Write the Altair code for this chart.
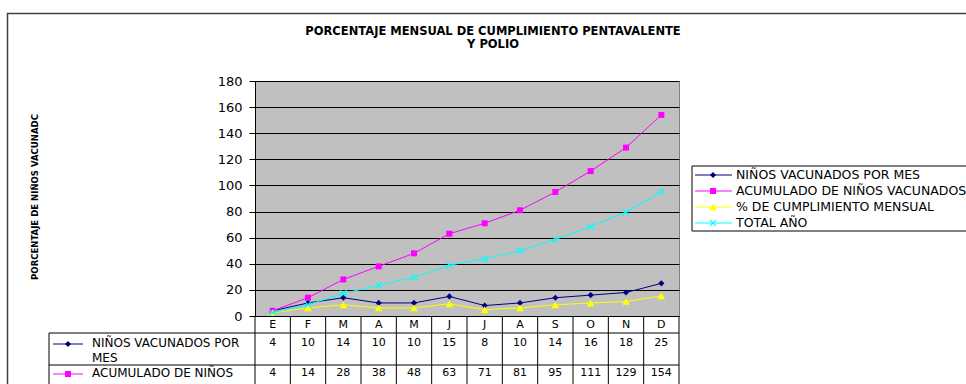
import altair as alt
import pandas as pd

# ---- data -------------------------------------------------------------
months = ["E", "F", "M", "A", "M", "J", "J", "A", "S", "O", "N", "D"]
ninos_mes = [4, 10, 14, 10, 10, 15, 8, 10, 14, 16, 18, 25]
acumulado = [4, 14, 28, 38, 48, 63, 71, 81, 95, 111, 129, 154]
cumplimiento = [2.5, 6.2, 8.6, 6.2, 6.2, 9.3, 4.9, 6.2, 8.6, 9.9, 11.1, 15.4]
total_anio = [2.5, 8.6, 17.3, 23.5, 29.6, 38.9, 43.8, 50.0, 58.6, 68.5, 79.6, 95.1]

series_names = [
    "NIÑOS VACUNADOS POR MES",
    "ACUMULADO DE NIÑOS VACUNADOS",
    "% DE CUMPLIMIENTO MENSUAL",
    "TOTAL AÑO",
]
series_values = [ninos_mes, acumulado, cumplimiento, total_anio]
series_colors = ["#000080", "#FF00FF", "#FFFF00", "#00FFFF"]
series_shapes = ["diamond", "square", "triangle-up", "M-1,-1L1,1M-1,1L1,-1"]
series_sizes = [38, 36, 60, 40]

rows = []
for name, vals in zip(series_names, series_values):
    for i, v in enumerate(vals):
        rows.append({"series": name, "idx": i, "pos": i + 0.5, "value": v})
df = pd.DataFrame(rows)

months_df = pd.DataFrame({
    "pos": [i + 0.5 for i in range(12)],
    "mes": months,
    "ninos": ninos_mes,
    "acum": acumulado,
})
bounds_df = pd.DataFrame({"b": list(range(13))})
one = pd.DataFrame({"k": [0]})

# ---- layout (pixels, relative to the plot area) ----------------------
W, H = 424, 235
PAD_L, PAD_T = 255, 81
FONT = "DejaVu Sans"

xs = alt.Scale(domain=[0, 12], nice=False, zero=False)


def X(field):
    return alt.X(field, scale=xs, axis=None)


layers = []

# outer chart frame
layers.append(
    alt.Chart(one).mark_rect(fill=None, stroke="#404040", strokeWidth=1.5).encode(
        x=alt.value(-247.5), x2=alt.value(800), y=alt.value(-67.5), y2=alt.value(400)
    )
)

# value axis with gridlines
y_axis = alt.Axis(
    values=list(range(0, 181, 20)), grid=True, gridColor="black", gridWidth=1,
    gridOpacity=1, domainColor="black", tickColor="black", tickSize=6,
    labelPadding=7, labelFont=FONT, labelFontSize=13, labelColor="black",
    title=None,
)
ys = alt.Scale(domain=[0, 180], nice=False, zero=True)

for name, vals, col, shp, sz in zip(series_names, series_values, series_colors,
                                     series_shapes, series_sizes):
    sub = alt.Chart(df).transform_filter(alt.datum.series == name)
    layers.append(
        sub.mark_line(color=col, strokeWidth=1).encode(
            x=X("pos:Q"), y=alt.Y("value:Q", scale=ys, axis=y_axis)
        )
    )
    if shp.startswith("M"):
        pt = sub.mark_point(shape=shp, size=sz, color=col, filled=False,
                            strokeWidth=1.2, opacity=1)
    else:
        pt = sub.mark_point(shape=shp, size=sz, color=col, filled=True, opacity=1)
    layers.append(pt.encode(x=X("pos:Q"), y=alt.Y("value:Q", scale=ys, axis=y_axis)))

# ---- title and value-axis title --------------------------------------
layers.append(
    alt.Chart(one).mark_text(
        font=FONT, fontSize=11.5, fontWeight="bold", color="black",
        align="center", baseline="middle", lineHeight=12.5,
    ).encode(
        x=alt.value(238), y=alt.value(-49),
        text=alt.value(["PORCENTAJE MENSUAL DE CUMPLIMIENTO PENTAVALENTE", "Y POLIO"]),
    )
)
layers.append(
    alt.Chart(one).mark_text(
        font="Liberation Sans Narrow, Arial Narrow, DejaVu Sans Condensed",
        fontSize=9.5, fontWeight="bold", color="black", angle=270,
        align="center", baseline="middle",
    ).encode(x=alt.value(-220), y=alt.value(116),
             text=alt.value("PORCENTAJE DE NIÑOS VACUNADC"))
)

# ---- data table under the plot ---------------------------------------
layers.append(
    alt.Chart(bounds_df).mark_rule(color="black", strokeWidth=1).encode(
        x=X("b:Q"), y=alt.value(H), y2=alt.value(320)
    )
)
for yy in (252, 284):
    layers.append(
        alt.Chart(one).mark_rule(color="black", strokeWidth=1).encode(
            x=alt.value(-206), x2=alt.value(W), y=alt.value(yy)
        )
    )
layers.append(
    alt.Chart(one).mark_rule(color="black", strokeWidth=1).encode(
        x=alt.value(-206), y=alt.value(252), y2=alt.value(320)
    )
)
layers.append(
    alt.Chart(months_df).mark_text(font=FONT, fontSize=11, color="black").encode(
        x=X("pos:Q"), y=alt.value(244), text="mes:N"
    )
)
layers.append(
    alt.Chart(months_df).mark_text(font=FONT, fontSize=11, color="black").encode(
        x=X("pos:Q"), y=alt.value(262), text="ninos:Q"
    )
)
layers.append(
    alt.Chart(months_df).mark_text(font=FONT, fontSize=11, color="black").encode(
        x=X("pos:Q"), y=alt.value(292), text="acum:Q"
    )
)

table_rows = [
    (["NIÑOS VACUNADOS POR", "MES"], 263, 0),
    (["ACUMULADO DE NIÑOS"], 293, 1),
]
for lines, yy, si in table_rows:
    layers.append(
        alt.Chart(one).mark_rule(color=series_colors[si], strokeWidth=1).encode(
            x=alt.value(-202), x2=alt.value(-172), y=alt.value(yy)
        )
    )
    layers.append(
        alt.Chart(one).mark_point(shape=series_shapes[si], size=series_sizes[si],
                                  color=series_colors[si], filled=True, opacity=1).encode(
            x=alt.value(-187), y=alt.value(yy)
        )
    )
    layers.append(
        alt.Chart(one).mark_text(font=FONT, fontSize=12, color="black",
                                 align="left", baseline="top", lineHeight=15).encode(
            x=alt.value(-163), y=alt.value(yy - 6), text=alt.value(lines)
        )
    )

# ---- legend box -------------------------------------------------------
layers.append(
    alt.Chart(one).mark_rect(fill="white", stroke="black", strokeWidth=1).encode(
        x=alt.value(437), x2=alt.value(760), y=alt.value(85), y2=alt.value(150)
    )
)
for i, (name, col, shp, sz) in enumerate(zip(series_names, series_colors,
                                             series_shapes, series_sizes)):
    yy = 94 + 16 * i
    layers.append(
        alt.Chart(one).mark_rule(color=col, strokeWidth=1).encode(
            x=alt.value(440), x2=alt.value(477), y=alt.value(yy)
        )
    )
    if shp.startswith("M"):
        mk = alt.Chart(one).mark_point(shape=shp, size=sz, color=col, filled=False,
                                       strokeWidth=1.2, opacity=1)
    else:
        mk = alt.Chart(one).mark_point(shape=shp, size=sz, color=col, filled=True,
                                       opacity=1)
    layers.append(mk.encode(x=alt.value(458), y=alt.value(yy)))
    layers.append(
        alt.Chart(one).mark_text(font=FONT, fontSize=12.5, color="black",
                                 align="left", baseline="middle").encode(
            x=alt.value(481), y=alt.value(yy), text=alt.value(name)
        )
    )

chart = (
    alt.layer(*layers)
    .properties(
        width=W, height=H,
        padding={"left": PAD_L, "top": PAD_T, "right": 966 - PAD_L - W,
                 "bottom": 384 - PAD_T - H},
        autosize=alt.AutoSizeParams(type="none"),
        background="white",
    )
    .configure_view(fill="#C0C0C0", stroke="#808080", strokeWidth=1)
)

chart.save("out.html", embed_options={"renderer": "svg", "actions": False})
